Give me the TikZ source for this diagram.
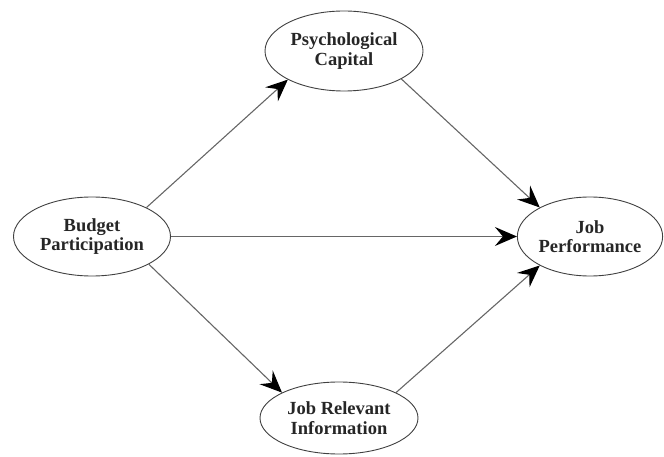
\documentclass[tikz,border=0pt]{standalone}
\usepackage{fontspec}
\setmainfont{Liberation Serif}
\usetikzlibrary{shapes.geometric,arrows.meta}
\tikzset{
  construct/.style={ellipse, draw=black!75, line width=0.9pt, inner sep=0pt,
    align=center, font=\fontsize{18.5}{19.5}\selectfont\bfseries, text=black!85},
  link/.style={draw=black!60, line width=1.1pt,
    -{Stealth[length=22pt, width=19pt, inset=8pt, black]}}
}
\begin{document}
\begin{tikzpicture}[x=1pt,y=-1pt]
\useasboundingbox (0,0) rectangle (664,457);
\node[construct, minimum width=158pt, minimum height=80pt] (psy) at (344,51) {Psychological\\Capital};
\node[construct, minimum width=157pt, minimum height=79pt] (bud) at (92,236.5) {Budget\\Participation};
\node[construct, minimum width=145pt, minimum height=79pt] (jp) at (590,236.5) {Job\\Performance};
\node[construct, minimum width=158pt, minimum height=72pt] (jri) at (339,418) {Job Relevant\\Information};
\draw[link] (bud.28) -- (psy.207);
\draw[link] (bud.0) -- (jp.180);
\draw[link] (bud.-26) -- (jri.156);
\draw[link] (psy.-26) -- (jp.150);
\draw[link] (jri.24) -- (jp.210);
\end{tikzpicture}
\end{document}
